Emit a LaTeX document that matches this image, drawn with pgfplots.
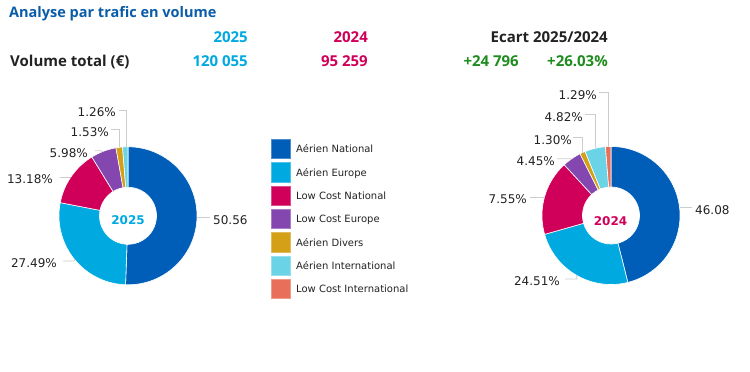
\documentclass[border=0pt]{standalone}
\usepackage{pgfplots}
\pgfplotsset{compat=1.18}
\usepackage{fontspec}
\setmainfont{DejaVu Sans}
\newfontfamily\headfont{Open Sans}
\definecolor{cN}{HTML}{005EB8}
\definecolor{cE}{HTML}{00A9E0}
\definecolor{cLCN}{HTML}{D0005A}
\definecolor{cLCE}{HTML}{8447AF}
\definecolor{cAD}{HTML}{D4A017}
\definecolor{cAI}{HTML}{6BD3E6}
\definecolor{cLCI}{HTML}{E8705A}
\definecolor{ctitle}{HTML}{0A5CA8}
\definecolor{cgreen}{HTML}{1E8C1E}
\definecolor{cdark}{HTML}{222222}
\definecolor{cline}{HTML}{CCCCCC}

\newcommand\donut[3]{%
  \xdef\acc{0}%
  \foreach \val/\col in {#3}{%
    \pgfmathsetmacro\sa{90-3.6*\acc}%
    \pgfmathsetmacro\sd{-3.6*\val}%
    \edef\tmp{\noexpand\addplot[fill=\col,draw=white,line width=0.6pt,domain=0:121,samples=122,variable=\noexpand\t]
      ({#1+ifthenelse(\noexpand\t<60.5,69,28.5)*cos((\sa)+(\sd)*ifthenelse(\noexpand\t<60.5,\noexpand\t/60,(121-\noexpand\t)/60))},
       {#2+ifthenelse(\noexpand\t<60.5,69,28.5)*sin((\sa)+(\sd)*ifthenelse(\noexpand\t<60.5,\noexpand\t/60,(121-\noexpand\t)/60))}) -- cycle;}%
    \tmp
    \pgfmathsetmacro\sn{\acc+\val}%
    \xdef\acc{\sn}%
  }%
}

\begin{document}
\begin{tikzpicture}
\useasboundingbox (0,0) rectangle (750pt,372pt);
\begin{axis}[x=1pt,y=1pt,xmin=0,xmax=750,ymin=0,ymax=372,hide axis,clip=false,anchor=south west,at={(0,0)}]
\donut{128}{156.2}{50.56/cN,27.49/cE,13.18/cLCN,5.98/cLCE,1.53/cAD,1.26/cAI}
\donut{611}{156.5}{46.08/cN,24.51/cE,17.55/cLCN,4.45/cLCE,1.30/cAD,4.82/cAI,1.29/cLCI}
\end{axis}
\begin{scope}[x=1pt,y=1pt]
% header
\node[anchor=base west,inner sep=0,text=ctitle,font=\headfont\bfseries\fontsize{14.5}{16}\selectfont] at (9,{372-17.3}) {Analyse par trafic en volume};
\begin{scope}[every node/.style={inner sep=0,font=\headfont\bfseries\fontsize{15}{16}\selectfont}]
\node[anchor=base east,text=cE] at (248,{372-43}) {2025};
\node[anchor=base east,text=cLCN] at (368,{372-43}) {2024};
\node[anchor=base east,text=cdark] at (608,{372-43}) {Ecart 2025/2024};
\node[anchor=base west,text=cdark] at (10,{372-66.7}) {Volume total (€)};
\node[anchor=base east,text=cE] at (248,{372-66.7}) {120 055};
\node[anchor=base east,text=cLCN] at (368,{372-66.7}) {95 259};
\node[anchor=base east,text=cgreen] at (519,{372-66.7}) {+24 796};
\node[anchor=base east,text=cgreen] at (608,{372-66.7}) {+26.03\%};
\end{scope}

% center labels
\node[anchor=base,inner sep=0,text=cE,font=\bfseries\fontsize{12}{14}\selectfont] at (128,{372-224.4}) {2025};
\node[anchor=base,inner sep=0,text=cLCN,font=\bfseries\fontsize{12}{14}\selectfont] at (610.5,{372-225.4}) {2024};

% leader lines
\begin{scope}[cline,line width=0.8pt]
\draw (126,{372-147}) -- (126,{372-110}) -- (119,{372-110});
\draw (119.5,{372-147.5}) -- (119.5,{372-129.3}) -- (111,{372-129.3});
\draw (103.5,{372-151.8}) -- (101,{372-150.8}) -- (95,{372-150.8});
\draw (70.5,{372-177.6}) -- (60,{372-177.6});
\draw (75,{372-259}) -- (74,{372-261}) -- (63,{372-261});
\draw (197,{372-217.7}) -- (210,{372-217.7});
\draw (608.2,{372-146.6}) -- (608.2,{372-92.3}) -- (599,{372-92.3});
\draw (595.1,{372-148.4}) -- (595.1,{372-114}) -- (585,{372-114});
\draw (582,{372-152.6}) -- (582,{372-137.3}) -- (573,{372-137.3});
\draw (571.7,{372-158.8}) -- (568,{372-158.7}) -- (557,{372-158.7});
\draw (544.6,{372-197.3}) -- (530,{372-197.3});
\draw (576.5,{372-275.3}) -- (577,{372-279}) -- (565,{372-279});
\draw (680,{372-207.5}) -- (692,{372-207.5});
\end{scope}

% pie labels
\begin{scope}[every node/.style={inner sep=0,text=cdark,font=\fontsize{12}{14}\selectfont}]
\node[anchor=base east] at (116,{372-116.1}) {1.26\%};
\node[anchor=base east] at (109,{372-136.1}) {1.53\%};
\node[anchor=base east] at (88,{372-157.1}) {5.98\%};
\node[anchor=base east] at (53,{372-183.4}) {13.18\%};
\node[anchor=base east] at (57,{372-267.1}) {27.49\%};
\node[anchor=base west] at (213,{372-224.4}) {50.56};
\node[anchor=base east] at (597,{372-99.4}) {1.29\%};
\node[anchor=base east] at (583,{372-121.1}) {4.82\%};
\node[anchor=base east] at (572,{372-144.4}) {1.30\%};
\node[anchor=base east] at (555,{372-165.1}) {4.45\%};
\node[anchor=base east] at (527,{372-203.4}) {7.55\%};
\node[anchor=base east] at (560,{372-285.4}) {24.51\%};
\node[anchor=base west] at (695,{372-214.4}) {46.08};
\end{scope}

% legend
\foreach \i/\col/\lab in {0/cN/Aérien National,1/cE/Aérien Europe,2/cLCN/Low Cost National,3/cLCE/Low Cost Europe,4/cAD/Aérien Divers,5/cAI/Aérien International,6/cLCI/Low Cost International}{
  \fill[\col] (271,{372-139-23.33*\i}) rectangle (291,{372-159-23.33*\i});
  \draw[\col!70!white,line width=0.6pt] (271.3,{372-139.3-23.33*\i}) rectangle (290.7,{372-158.7-23.33*\i});
  \node[anchor=base west,inner sep=0,text=cdark,font=\fontsize{10}{12}\selectfont] at (296,{372-153-23.33*\i}) {\lab};
}
\end{scope}
\end{tikzpicture}
\end{document}
